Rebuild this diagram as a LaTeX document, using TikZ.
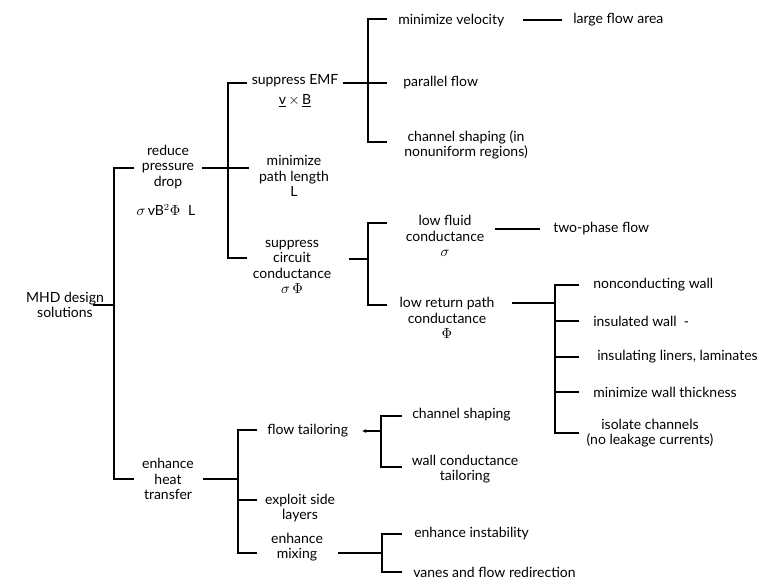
\documentclass[tikz,border=0pt]{standalone}
\usepackage{fontspec}
\setmainfont{Lato}
\usetikzlibrary{arrows.meta}
\begin{document}
\begin{tikzpicture}[x=0.75pt,y=-0.75pt,
  lbl/.style={inner sep=0pt,align=center,font=\fontsize{10.5}{11.6}\selectfont},
  ln/.style={line width=1.05pt,line join=miter}]
\useasboundingbox (0,0) rectangle (768,579);
% ---------- labels ----------
\node[lbl] (mhd) at (65,305) {MHD design\\solutions};
\node[lbl] (rpd) at (168,167) {reduce\\pressure\\drop};
\node[lbl] (rpdf) at (166,210) {$\sigma$\,vB$^2\Phi$\;\;L};
\node[lbl] (emf) at (295,81) {suppress EMF};
\node[lbl] (vxb) at (295,101) {\underline{v}\,$\times$\,\underline{B}};
\node[lbl] (mpl) at (294,176) {minimize\\path length\\L};
\node[lbl] (scc) at (292,267) {suppress\\circuit\\conductance\\$\sigma\,\Phi$};
\node[lbl,anchor=west] (mv) at (398,21) {minimize velocity};
\node[lbl,anchor=west] (lfa) at (573,20) {large flow area};
\node[lbl,anchor=west] (pf) at (403,83) {parallel flow};
\node[lbl] (cs) at (466,145) {channel shaping (in\\nonuniform regions)};
\node[lbl] (lfc) at (445,236) {low fluid\\conductance\\$\sigma$};
\node[lbl,anchor=west] (tpf) at (553,229) {two-phase flow};
\node[lbl] (lrc) at (447,318) {low return path\\conductance\\$\Phi$};
\node[lbl,anchor=west] (ncw) at (593,285) {nonconducting wall};
\node[lbl,anchor=west] (iw) at (593,321) {insulated wall\ \ -};
\node[lbl,anchor=west] (ill) at (597,357) {insulating liners, laminates};
\node[lbl,anchor=west] (mwt) at (593,392) {minimize wall thickness};
\node[lbl] (ic) at (650,433) {isolate channels\\(no leakage currents)};
\node[lbl] (eht) at (168,479) {enhance\\heat\\transfer};
\node[lbl,anchor=west] (ft) at (267,431) {flow tailoring};
\node[lbl] (esl) at (300,508) {exploit side\\layers};
\node[lbl] (em) at (297,547) {enhance\\mixing};
\node[lbl,anchor=west] (chs) at (412,415) {channel shaping};
\node[lbl] (wct) at (465,469) {wall conductance\\tailoring};
\node[lbl,anchor=west] (ei) at (414,534) {enhance instability};
\node[lbl,anchor=west] (vfr) at (413,572) {vanes and flow redirection};
% ---------- junction coordinates ----------
% root bracket
\coordinate (a0) at (93,305);  \coordinate (a1) at (114,305);
\coordinate (aT) at (114,168); \coordinate (aB) at (114,479);
\coordinate (aTs) at (134,168); \coordinate (aBs) at (134,479);
% reduce pressure drop bracket
\coordinate (b0) at (202,168); \coordinate (b1) at (249,168);
\coordinate (bT) at (228,83);  \coordinate (bB) at (228,258);
\coordinate (bTs) at (247,83); \coordinate (bBs) at (247,258);
% suppress EMF bracket
\coordinate (c0) at (343,83);  \coordinate (c1) at (387,83);
\coordinate (cT) at (368,19);  \coordinate (cB) at (368,142);
\coordinate (cTs) at (387,19); \coordinate (cBs) at (387,142);
\coordinate (v0) at (523,20);  \coordinate (v1) at (562,20);
% suppress circuit conductance bracket
\coordinate (d0) at (349,259); \coordinate (d1) at (368,259);
\coordinate (dT) at (368,223); \coordinate (dB) at (368,305);
\coordinate (dTs) at (387,223); \coordinate (dBs) at (387,305);
\coordinate (f0) at (495,229); \coordinate (f1) at (540,229);
% low return path bracket
\coordinate (e0) at (512,303); \coordinate (e1) at (555,303);
\coordinate (eT) at (555,285); \coordinate (eB) at (555,433);
\coordinate (eTs) at (579,285); \coordinate (eBs) at (579,433);
\coordinate (e2) at (555,321); \coordinate (e2s) at (579,321);
\coordinate (e3) at (555,357); \coordinate (e3s) at (579,357);
\coordinate (e4) at (555,392); \coordinate (e4s) at (579,392);
% enhance heat transfer bracket
\coordinate (g0) at (203,479); \coordinate (g1) at (238,479);
\coordinate (gT) at (238,430); \coordinate (gB) at (238,553);
\coordinate (gTs) at (257,430); \coordinate (gBs) at (257,553);
\coordinate (g2) at (238,500); \coordinate (g2s) at (257,500);
% flow tailoring bracket
\coordinate (h0) at (362,431); \coordinate (h1) at (381,431);
\coordinate (hT) at (381,416); \coordinate (hB) at (381,467);
\coordinate (hTs) at (402,416); \coordinate (hBs) at (402,467);
% enhance mixing bracket
\coordinate (k0) at (338,553); \coordinate (k1) at (382,553);
\coordinate (kT) at (382,534); \coordinate (kB) at (382,572);
\coordinate (kTs) at (402,534); \coordinate (kBs) at (402,572);
% ---------- connectors ----------
\draw[ln] (a0) -- (a1);
\draw[ln] (aTs) -- (aT) -- (aB) -- (aBs);
\draw[ln] (b0) -- (b1);
\draw[ln] (bTs) -- (bT) -- (bB) -- (bBs);
\draw[ln] (c0) -- (c1);
\draw[ln] (cTs) -- (cT) -- (cB) -- (cBs);
\draw[ln] (v0) -- (v1);
\draw[ln] (d0) -- (d1);
\draw[ln] (dTs) -- (dT) -- (dB) -- (dBs);
\draw[ln] (f0) -- (f1);
\draw[ln] (e0) -- (e1);
\draw[ln] (eTs) -- (eT) -- (eB) -- (eBs);
\draw[ln] (e2) -- (e2s);
\draw[ln] (e3) -- (e3s);
\draw[ln] (e4) -- (e4s);
\draw[ln] (g0) -- (g1);
\draw[ln] (gTs) -- (gT) -- (gB) -- (gBs);
\draw[ln] (g2) -- (g2s);
\draw[ln,{Latex[length=3pt,width=3pt]}-] (h0) -- (h1);
\draw[ln] (hTs) -- (hT) -- (hB) -- (hBs);
\draw[ln] (k0) -- (k1);
\draw[ln] (kTs) -- (kT) -- (kB) -- (kBs);
\end{tikzpicture}
\end{document}
